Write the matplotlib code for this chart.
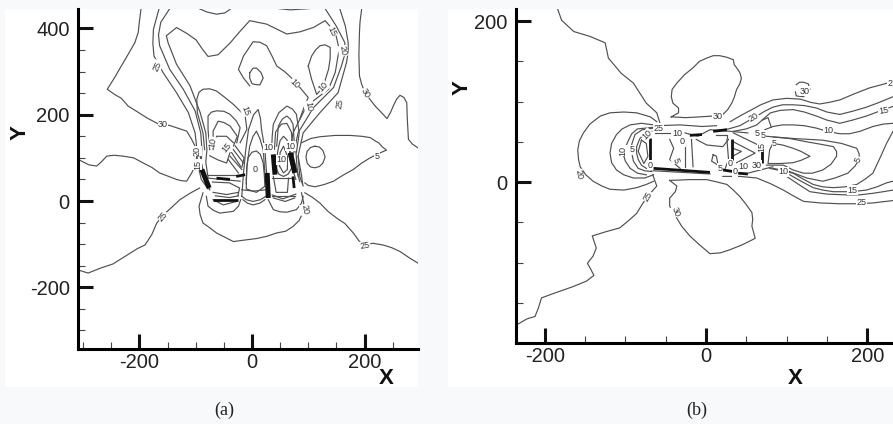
import matplotlib
matplotlib.use("Agg")
import numpy as np
import matplotlib.pyplot as plt
from matplotlib.patches import Rectangle

W, H = 893, 424

# ---- panel (a) contours, x/y pairs
a30_left = [(-197,446),(-200,415),(-202,391),(-208,367),(-223,333),(-232,313),(-244,286),(-257,259),(-244,247),(-232,238),(-220,220),(-205,208),(-187,193),(-167,179),(-146,175),(-116,162),(-108,145),(-101,127),(-98,104),(-100,85),(-107,65),(-116,46),(-125,47),(-134,50),(-150,58),(-164,65),(-178,78),(-193,88),(-210,100),(-229,104),(-245,106),(-258,104),(-268,90),(-276,81),(-290,84),(-308,96)]
a30_right = [(195,446),(192,415),(191,391),(190,340),(191,290),(195,270),(201,251),(210,235),(219,220),(230,205),(240,191),(246,205),(251,220),(257,236),(263,245),(270,240),(275,228),(276,190),(278,143),(285,132),(295,123)]
a30_blob = [(88,135),(105,145),(121,149),(148,152),(174,152),(195,150),(210,147),(218,140),(225,135),(232,125),(239,118),(225,110),(210,100),(195,88),(180,73),(162,60),(145,46),(128,38),(112,33),(100,36),(94,42)]
a_circle = [(112,127),(120,125),(126,117),(130,102),(126,88),(120,80),(112,77),(104,79),(98,88),(96,102),(98,115),(104,124),(112,127)]
a25_low_left = [(-306,-161),(-291,-167),(-270,-156),(-247,-146),(-225,-128),(-203,-110),(-190,-102),(-178,-78),(-169,-51),(-157,-32),(-142,-14),(-128,3),(-110,18),(-93,30)]
a25_low_right = [(94,19),(108,8),(121,-5),(135,-24),(151,-40),(165,-52),(180,-74),(190,-92),(198,-102),(215,-98),(233,-102),(248,-108),(263,-117),(280,-132),(295,-144)]
a20_low = [(-87,19),(-94,-12),(-92,-32),(-87,-51),(-75,-62),(-63,-74),(-48,-84),(-33,-94),(-10,-90),(8,-87),(26,-82),(44,-74),(60,-70),(73,-59),(84,-45),(90,-28),(92,-5),(88,19)]
a25_left = [(-165,446),(-175,398),(-176,365),(-174,336),(-158,298),(-134,251),(-113,205),(-101,158),(-98,123),(-97,90),(-90,50),(-78,28)]
a20_left = [(-146,446),(-162,414),(-166,385),(-164,360),(-146,305),(-122,259),(-101,209),(-91,158),(-89,123),(-90,90),(-84,50),(-75,28)]
a15_top = [(-78,55),(-82,90),(-80,119),(-82,158),(-92,205),(-110,267),(-134,317),(-149,367),(-152,383),(-134,402),(-115,388),(-99,373),(-88,352),(-78,335),(-60,339),(-50,352),(-39,366),(-22,392),(-4,418),(26,410),(62,387),(85,392),(109,402),(130,418),(148,391),(155,352),(148,298),(136,259),(97,220),(73,158),(66,104),(72,75),(78,50)]
a25_right = [(156,446),(166,405),(171,367),(171,345),(168,321),(153,251),(121,205),(91,158),(82,104),(88,60),(90,40)]
a20_right = [(130,446),(150,405),(165,367),(165,340),(159,313),(145,263),(109,216),(82,158),(73,104),(80,70),(85,45)]
a_arc_top1 = [(-94,446),(-80,438),(-63,433),(-48,436),(-39,444)]
a_arc_top2 = [(47,446),(68,443),(103,446)]
a10_blob = [(100,313),(106,336),(113,350),(121,360),(130,362),(139,356),(139,330),(136,305),(126,263),(115,247),(106,282),(100,313)]
a10_line = [(-4,267),(-15,285),(-24,305),(-15,336),(2,369),(14,368),(26,360),(36,335),(44,313),(58,300),(73,282),(100,240),(92,215),(85,190)]
a5_blob = [(-4,297),(2,308),(8,308),(16,298),(20,285),(14,269),(6,270),(0,272),(-4,285),(-4,297)]
a_arch_l1 = [(-84,119),(-87,158),(-97,205),(-98,236),(-94,252),(-87,259),(-75,260),(-63,255),(-48,240),(-33,224),(-12,197),(-9,166),(-21,135)]
a_arch_l2 = [(-75,119),(-78,166),(-78,197),(-72,206),(-63,209),(-50,208),(-39,201),(-28,186),(-21,170),(-27,135)]
a_arch_l3 = [(-69,119),(-69,162),(-60,185),(-50,182),(-39,174),(-26,150),(-33,127)]
a_arch_l4 = [(-63,127),(-63,150),(-45,150),(-33,135)]
a_sag_l = [(-75,105),(-60,95),(-45,88),(-39,112)]
a_peak1 = [(-18,11),(-15,65),(-11,119),(-6,166),(3,200),(11,212),(15,192),(17,166),(23,119),(26,65),(26,11)]
a_peak2 = [(-10,40),(-9,80),(-4,127),(2,150),(8,162),(14,145),(20,119),(23,65)]
a_peak3 = [(-10,50),(-9,78),(-7,100),(0,113),(8,116),(15,108),(20,88),(22,60),(23,34),(8,20),(-10,28),(-10,50)]
a_under1 = [(-18,26),(2,23),(25,26)]
a_under2 = [(-18,11),(-10,3),(2,-1),(15,3),(25,11)]
a_under3 = [(-16,3),(-8,-5),(2,-9),(14,-5),(23,3)]
a_arch_r1 = [(35,119),(36,150),(38,178),(48,205),(62,220),(72,213),(79,201),(84,158),(79,112)]
a_arch_r2 = [(44,127),(47,174),(54,190),(62,197),(68,190),(73,178),(76,119)]
a_arch_r3 = [(40,120),(42,160),(52,178),(62,180),(70,160),(73,118)]
a_oval1 = [(44,73),(44,100),(47,123),(50,140),(56,150),(62,142),(66,127),(70,100),(71,77),(64,62),(56,57),(48,62),(44,73)]
a_oval2 = [(49,81),(50,112),(56,127),(63,104),(63,73),(56,65),(49,81)]
a_car_l1 = [(-78,61),(-18,61)]
a_car_l2 = [(-78,53),(-21,46)]
a_car_l3 = [(-69,20),(-45,15),(-24,20)]
a_car_l4 = [(-81,11),(-78,-12),(-68,-22),(-57,-28),(-33,-24),(-24,-12),(-20,3)]
a_car_l5 = [(-69,3),(-51,-9),(-27,-1)]
a_car_l6 = [(-92,104),(-87,65),(-75,26)]
a_car_l7 = [(-39,104),(-18,73)]
a_car_l8 = [(-42,96),(-24,65)]
a_car_l9 = [(-33,119),(-15,88)]
a_car_l10 = [(-36,112),(-20,80)]
a_car_l11 = [(-30,128),(-14,100),(-18,78)]
a_car_l12 = [(-70,44),(-40,42),(-22,30),(-25,12)]
a_car_l13 = [(-65,12),(-40,8),(-24,12)]
a_car_r1 = [(35,53),(73,53)]
a_car_r2 = [(38,57),(43,20),(63,20),(65,53)]
a_car_r3 = [(35,11),(76,11)]
a_car_r4 = [(29,3),(38,-20),(50,-25),(62,-26),(79,-20),(88,-5),(91,11)]
a_car_r5 = [(38,7),(59,-1),(76,7)]
a_car_r6 = [(82,104),(85,57),(91,35)]
a_car_r7 = [(78,118),(80,80),(82,58)]
a_car_r8 = [(36,14),(55,5),(78,16)]
a_bold1 = [(-89,73),(-76,30)]
a_bold2 = [(-63,53),(-39,50)]
a_bold3 = [(-28,57),(-12,61)]
a_bold4 = [(-69,3),(-24,3)]
a_bold5 = [(38,108),(41,61)]
a_bold6 = [(27,65),(29,7)]
a_bold7 = [(73,57),(75,30)]
a_bold8 = [(68,112),(76,65)]

a_thin = [a30_left, a30_right, a30_blob, a_circle, a25_low_left, a25_low_right, a20_low,
          a25_left, a20_left, a15_top, a25_right, a20_right, a_arc_top1, a_arc_top2,
          a10_blob, a10_line, a5_blob, a_arch_l1, a_arch_l2, a_arch_l3, a_arch_l4, a_sag_l,
          a_peak1, a_peak2, a_peak3, a_under1, a_under2, a_under3, a_arch_r1, a_arch_r2, a_arch_r3,
          a_oval1, a_oval2, a_car_l1, a_car_l2, a_car_l3, a_car_l4, a_car_l5, a_car_l6,
          a_car_l7, a_car_l8, a_car_l9, a_car_l10, a_car_l11, a_car_l12, a_car_l13,
          a_car_r1, a_car_r2, a_car_r3, a_car_r4, a_car_r5, a_car_r6, a_car_r7, a_car_r8]
a_bold = [a_bold2, a_bold3, a_bold4, a_bold7]
a_wide = [a_bold1, a_bold5, a_bold6, a_bold8]

a_labels = [(-168,313,"25",65),(-158,178,"30",0),(142,393,"15",-65),(162,348,"20",-80),
            (202,250,"30",-60),(76,272,"10",-45),(127,264,"10",45),(101,220,"10",-80),
            (156,226,"25",80),(-11,209,"15",-70),(-158,-36,"25",50),(94,-20,"20",-80),
            (201,-104,"25",10),(-69,136,"10",80),(-45,123,"15",50),(-98,116,"20",90),
            (-97,84,"15",90),(222,102,"5",0),(5,73,"0",0),(53,96,"10",0),(29,123,"10",0),
            (68,127,"10",0)]

# ---- panel (b) contours
b25_top_left = [(-184,215),(-179,201),(-164,187),(-144,181),(-125,173),(-121,154),(-105,135),(-90,123),(-74,98),(-61,86),(-57,73),(-61,70),(-32,71),(-5,69),(13,70)]
b25_top = [(30,75),(42,82),(55,89),(68,96),(83,102),(100,104),(117,103),(130,99),(141,97),(153,99),(166,102),(185,110),(203,117),(218,121),(232,125)]
b20_top = [(13,64),(28,66),(42,70),(63,82),(73,88),(83,93),(95,96),(108,96),(122,95),(137,92),(150,87),(166,84),(182,88),(199,93),(215,99),(232,106)]
b15_top = [(34,63),(50,66),(63,71),(72,79),(80,86),(92,89),(108,90),(122,87),(137,82),(150,77),(166,73),(182,77),(199,82),(215,88),(232,94)]
b10_top = [(73,65),(83,69),(95,71),(108,71),(122,70),(137,67),(150,63),(166,60),(178,60),(191,63),(207,69),(220,72),(232,73)]
b10_nub = [(70,77),(77,80),(81,68)]
b5_inner = [(83,48),(95,46),(108,42),(118,38),(129,32),(118,27),(108,24),(92,23),(77,23),(79,40),(83,48)]
b5_mid = [(83,56),(104,54),(125,50),(142,47),(158,44),(162,38),(162,32),(155,22),(145,15),(132,11),(121,11),(108,15),(96,21),(75,21)]
b5_outer = [(73,57),(110,54),(145,52),(168,48),(187,42),(190,35),(190,28),(185,20),(176,11),(160,5),(145,1),(125,5),(104,13),(83,17)]
b10_low = [(79,17),(108,11),(120,4),(133,-3),(145,-6),(158,-7),(172,-6),(187,-3),(198,4),(207,11),(215,28),(224,48),(232,63)]
b15_low = [(104,9),(118,1),(133,-7),(145,-10),(158,-12),(180,-12),(199,-10),(212,-6),(224,-1),(232,1)]
b20_low = [(100,7),(115,-3),(129,-12),(150,-15),(174,-16),(190,-16),(207,-14),(220,-12),(232,-10)]
b25_low = [(21,7),(42,7),(63,5),(80,-2),(96,-10),(108,-17),(121,-24),(142,-26),(166,-27),(187,-27),(207,-26),(232,-23)]
b30_up = [(-43,81),(-34,86),(-34,92),(-41,98),(-43,106),(-42,115),(-36,123),(-27,133),(-16,142),(-8,150),(1,154),(9,157),(17,157),(26,155),(34,152),(35,146),(38,142),(42,136),(44,129),(42,122),(38,115),(35,105),(32,98),(27,90),(21,84),(8,82),(-7,81),(-25,80),(-43,81)]
b30_down = [(-45,2),(-36,-5),(-38,-12),(-45,-20),(-45,-30),(-38,-42),(-30,-55),(-20,-67),(-8,-78),(5,-89),(18,-88),(30,-84),(45,-78),(61,-70),(59,-62),(57,-55),(58,-46),(57,-38),(50,-28),(42,-18),(34,-10),(26,-3),(14,0),(1,3),(-20,3),(-45,2)]
b30_small = [(112,121),(116,124),(121,124),(127,122),(129,115),(121,106),(112,107),(111,112)]
b25_low_left = [(-234,-177),(-222,-170),(-212,-167),(-208,-157),(-204,-144),(-196,-141),(-185,-137),(-165,-130),(-148,-123),(-139,-116),(-143,-108),(-147,-101),(-140,-92),(-136,-82),(-141,-67),(-125,-62),(-107,-57),(-96,-48),(-86,-39),(-78,-26),(-70,-15),(-61,-5),(-66,9)]
b20_left = [(-61,75),(-69,81),(-86,86),(-102,87),(-119,86),(-131,82),(-144,72),(-152,61),(-157,51),(-159,40),(-158,28),(-156,19),(-149,9),(-140,1),(-129,-5),(-119,-9),(-102,-10),(-86,-7),(-74,-3),(-65,1)]
b15_left = [(-65,71),(-80,73),(-94,71),(-104,66),(-111,59),(-117,48),(-119,36),(-117,24),(-111,15),(-102,9),(-90,5),(-76,5),(-65,9)]
b10_left = [(-65,68),(-85,66),(-92,60),(-96,52),(-103,36),(-100,26),(-94,17),(-85,11),(-74,9)]
b8_left = [(-65,67),(-79,65),(-88,59),(-92,47),(-92,36),(-90,26),(-84,17),(-76,14),(-67,13)]
b6_left = [(-67,63),(-76,60),(-82,54),(-86,44),(-86,36),(-84,28),(-80,21),(-74,17),(-67,15)]
b4_left = [(-80,52),(-84,38),(-77,23),(-72,32),(-74,48),(-80,52)]
b_top1 = [(-63,61),(-45,61)]
b_top2 = [(-26,61),(-10,57),(5,65),(30,63),(52,61)]
b_box = [(13,59),(26,59),(26,55)]
b_under = [(-65,14),(5,10)]
b_skew = [(52,11),(83,19)]
b_v1 = [(-26,48),(-26,19)]
b_v2 = [(-18,53),(-16,19)]
b_chev1 = [(34,50),(61,36),(38,24)]
b_chev2 = [(33,42),(44,38),(33,32)]
b_chev3 = [(34,61),(69,44)]
b_in1 = [(-12,53),(1,46),(21,44),(28,53)]
b_in2 = [(9,34),(13,32),(15,21),(7,26),(9,34)]
b_in3 = [(-45,53),(-40,42),(-45,28),(-32,17)]
b_in4 = [(26,53),(28,28),(24,17)]
b_bold1 = [(-69,55),(-69,24)]
b_bold2 = [(-65,17),(5,12)]
b_bold3 = [(21,15),(34,13)]
b_bold4 = [(40,11),(52,10)]
b_bold5 = [(-20,58),(-5,59)]
b_bold6 = [(9,63),(26,65)]
b_bold7 = [(70,48),(70,24)]
b_bold8 = [(32,53),(32,28)]

b_thin = [b25_top_left, b25_top, b20_top, b15_top, b10_top, b10_nub, b5_inner, b5_mid, b5_outer, b10_low,
          b15_low, b20_low, b25_low, b30_up, b30_down, b30_small, b25_low_left, b20_left,
          b15_left, b10_left, b8_left, b6_left, b4_left, b_top1, b_top2, b_box, b_under, b_skew,
          b_v1, b_v2, b_chev1, b_chev2, b_chev3, b_in1, b_in2, b_in3, b_in4]
b_bold = [b_bold1, b_bold2, b_bold3, b_bold4, b_bold5, b_bold6, b_bold7, b_bold8]

b_labels = [(-59,67,"25",0),(-36,60,"10",0),(-29,50,"0",0),(-73,59,"10",45),(-103,39,"10",90),
            (-92,40,"5",0),(-37,27,"5",-70),(-69,21,"0",0),(-158,9,"20",-80),(-72,-18,"25",60),
            (-38,-37,"30",-70),(14,81,"30",0),(59,81,"20",30),(63,60,"5",0),(71,58,"5",0),
            (69,44,"15",90),(85,48,"5",0),(152,64,"10",0),(220,89,"15",10),(189,28,"5",70),
            (182,-10,"15",0),(193,-26,"25",0),(96,13,"10",0),(46,19,"10",0),(63,21,"30",0),
            (17,17,"5",0),(30,23,"0",0),(36,13,"0",0),(122,113,"30",0),(228,123,"2",0)]

a_xticks = [-200, 0, 200]
a_yticks = [-200, 0, 200, 400]
b_xticks = [-200, 0, 200]
b_yticks = [0, 200]

plt.rcParams["font.family"] = ["Liberation Sans", "DejaVu Sans"]
plt.rcParams["axes.unicode_minus"] = False
fig = plt.figure(figsize=(W/100, H/100), dpi=100, facecolor="#f8f9fa")

def box(l, t, r, b):
    return [l/W, 1 - b/H, (r-l)/W, (b-t)/H]

# white paper behind both plots
for l, r in [(5, 418), (448, 893)]:
    fig.add_artist(Rectangle((l/W, 1-387/H), (r-l)/W, 378/H, transform=fig.transFigure,
                             facecolor="white", edgecolor="none", zorder=-5))

def panel(rect, xlim, ylim, xticks, yticks, thin, bold, wide, labels):
    ax = fig.add_axes(rect)
    ax.patch.set_alpha(0)
    ax.set_xlim(*xlim)
    ax.set_ylim(*ylim)
    for line in thin:
        pts = np.array(line)
        ax.plot(pts[:,0], pts[:,1], color="#505050", lw=0.85, solid_joinstyle="round")
    for line in bold:
        pts = np.array(line)
        ax.plot(pts[:,0], pts[:,1], color="#111111", lw=2.0, solid_capstyle="butt")
    for line in wide:
        pts = np.array(line)
        ax.plot(pts[:,0], pts[:,1], color="#111111", lw=3.6, solid_capstyle="butt")
    for x, y, txt, rot in labels:
        ax.text(x, y, txt, rotation=rot, fontsize=6.5, color="#333333", ha="center", va="center",
                rotation_mode="anchor", clip_on=True,
                bbox=dict(facecolor="white", edgecolor="none", pad=0.3))
    ax.spines["top"].set_visible(False)
    ax.spines["right"].set_visible(False)
    ax.spines["left"].set_linewidth(2.2)
    ax.spines["bottom"].set_linewidth(2.2)
    ax.set_xticks(xticks)
    ax.set_yticks(yticks)
    ax.set_xticks(np.arange(-300, 301, 50), minor=True)
    ax.set_yticks(np.arange(-300, 451, 50), minor=True)
    ax.set_xlim(*xlim)
    ax.set_ylim(*ylim)
    ax.tick_params(which="major", direction="in", length=10.5, width=2.2, labelsize=14.5,
                   labelcolor="#222222", color="#111111")
    ax.tick_params(axis="x", which="major", pad=3)
    ax.tick_params(axis="y", which="major", pad=6)
    ax.tick_params(which="minor", direction="in", length=5, width=0.8, color="#444444")
    return ax

panel(box(78, 9, 418, 349), (-309, 295), (-343, 445), a_xticks, a_yticks, a_thin, a_bold, a_wide, a_labels)
panel(box(516, 9, 893, 343), (-235.6, 232), (-200, 215), b_xticks, b_yticks, b_thin, b_bold, [], b_labels)

fig.text(386/W, 1-378/H, "X", fontsize=16, fontweight="bold", ha="center", va="center", color="#111111")
fig.text(20/W, 1-133/H, "Y", fontsize=16, fontweight="bold", rotation=90, ha="center", va="center", color="#111111")
fig.text(795/W, 1-378/H, "X", fontsize=16, fontweight="bold", ha="center", va="center", color="#111111")
fig.text(462/W, 1-88/H, "Y", fontsize=16, fontweight="bold", rotation=90, ha="center", va="center", color="#111111")

fig.text(224/W, 1-410/H, "(a)", family="Liberation Serif", fontsize=13, ha="center", va="center", color="#222222")
fig.text(697/W, 1-410/H, "(b)", family="Liberation Serif", fontsize=13, ha="center", va="center", color="#222222")

fig.savefig("out.png", dpi=100, facecolor=fig.get_facecolor())
